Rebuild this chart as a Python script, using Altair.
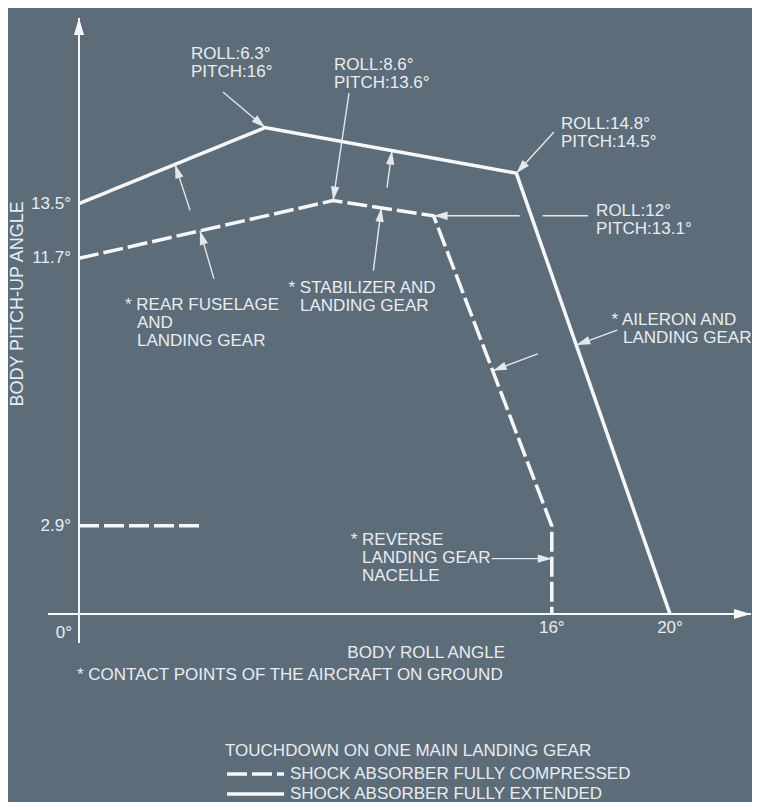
import math
import altair as alt
import pandas as pd

# ---------------- values ----------------
extended_roll = [0, 6.3, 14.8, 20]
extended_pitch = [13.5, 16, 14.5, 0]
compressed_roll = [0, 8.6, 12, 16, 16]
compressed_pitch = [11.7, 13.6, 13.1, 2.9, 0]
nacelle_roll = [0, 4.2]
nacelle_pitch = [2.9, 2.9]

x_tick_values = [16, 20]
y_tick_values = [2.9, 11.7, 13.5]
origin_label = "0°"

series_names = ["SHOCK ABSORBER FULLY COMPRESSED", "SHOCK ABSORBER FULLY EXTENDED"]
legend_title = "TOUCHDOWN ON ONE MAIN LANDING GEAR"
x_title = "BODY ROLL ANGLE"
y_title = "BODY PITCH-UP ANGLE"
footnote = "* CONTACT POINTS OF THE AIRCRAFT ON GROUND"

vertex_labels = ["ROLL:6.3°\nPITCH:16°", "ROLL:8.6°\nPITCH:13.6°",
                 "ROLL:14.8°\nPITCH:14.5°", "ROLL:12°\nPITCH:13.1°"]
vertex_roll = [6.3, 8.6, 14.8, 12]
vertex_pitch = [16, 13.6, 14.5, 13.1]

contact_heads = ["* REAR FUSELAGE", "* STABILIZER AND", "* AILERON AND", "* REVERSE"]
contact_rest = ["AND\nLANDING GEAR", "LANDING GEAR", "LANDING GEAR", "LANDING GEAR\nNACELLE"]

# ---------------- layout (plot geometry, not data) ----------------
W, H = 744, 794
X_DOM = [-2.4027, 22.775]
Y_DOM = [-6.184, 19.934]
SX = W / (X_DOM[1] - X_DOM[0])
SY = H / (Y_DOM[1] - Y_DOM[0])


def ux(p):
    return p / SX


def uy(p):
    return p / SY


FONT = "Liberation Sans"
FS = 17
BG = "#5d6c79"
LINE = "#f6f7f8"
INK = "#e9edf0"
THIN = "#e4e8ec"
ARROW = "M0,0L-2,-0.6L-2,0.6Z"

vertex_label_pos = [(3.79, 18.26), (8.63, 17.91), (16.31, 15.94), (17.50, 13.08)]
vertex_tail_pos = [(4.873, 17.171), (9.137, 17.138), (16.074, 15.855), (17.225, 13.1)]
contact_head_pos = [(1.557, 10.0), (7.09, 10.56), (18.02, 9.51), (9.195, 2.27)]
contact_rest_pos = [(1.963, 9.408), (7.48, 9.967), (18.41, 8.91), (9.577, 1.678)]
x_title_pos = (14.42, -1.447)
footnote_pos = (-0.068, -2.171)
y_title_pos = (-2.071, 10.2)

# pointer arrows to the lines: (line, segment, fraction, tail dx px, tail dy px)
pointer_specs = [
    ("E", 0, 0.516, 15, 46),
    ("E", 1, 0.505, -5, 37),
    ("C", 2, 0.50, 45, -17),
    ("C", 0, 0.476, 14, 48),
    ("C", 1, 0.48, -8, 63),
    ("E", 2, 0.39, 41, -15),
    ("C", 3, 0.372, -60, 0),
]

# ---------------- tables ----------------
rows = []
for i, (r, p) in enumerate(zip(extended_roll, extended_pitch)):
    rows.append(dict(path="extended", series=series_names[1], roll=r, pitch=p, order=i))
for i, (r, p) in enumerate(zip(compressed_roll, compressed_pitch)):
    rows.append(dict(path="compressed", series=series_names[0], roll=r, pitch=p, order=i))
for i, (r, p) in enumerate(zip(nacelle_roll, nacelle_pitch)):
    rows.append(dict(path="nacelle", series=series_names[0], roll=r, pitch=p, order=i))
lines_df = pd.DataFrame(rows)

polys = {"E": list(zip(extended_roll, extended_pitch)),
         "C": list(zip(compressed_roll, compressed_pitch))}

rules = []
heads = []


def add_arrow(sx, sy, tx, ty, kind="thin", gap=None):
    if gap is None:
        rules.append(dict(x=sx, y=sy, x2=tx, y2=ty, kind=kind))
    else:
        g0, g1 = gap
        rules.append(dict(x=tx, y=ty, x2=g0, y2=ty, kind=kind))
        rules.append(dict(x=g1, y=sy, x2=sx, y2=sy, kind=kind))
    ang = math.degrees(math.atan2(-(ty - sy) * SY, (tx - sx) * SX)) % 360
    heads.append(dict(x=tx, y=ty, ang=ang, kind=kind))


# callout arrows from the vertex labels
for k, ((sx, sy), r, p) in enumerate(zip(vertex_tail_pos, vertex_roll, vertex_pitch)):
    gap = None
    if k == 3:
        (ax, ay), (bx, by) = polys["E"][2], polys["E"][3]
        cx = ax + (p - ay) / (by - ay) * (bx - ax)
        gap = (cx - ux(11.5), cx + ux(11.5))
    add_arrow(sx, sy, r, p, gap=gap)

# pointers onto the lines
for line, seg, t, dxp, dyp in pointer_specs:
    (ax, ay), (bx, by) = polys[line][seg], polys[line][seg + 1]
    tx, ty = ax + t * (bx - ax), ay + t * (by - ay)
    add_arrow(tx + ux(dxp), ty - uy(dyp), tx, ty)

# axes
add_arrow(-1.05, 0, 22.74, 0, kind="axis")
add_arrow(0, -0.954, 0, 19.605, kind="axis")

rules_df = pd.DataFrame(rules)
heads_df = pd.DataFrame(heads)

left_text = []
for lab, (x, y) in zip(vertex_labels, vertex_label_pos):
    left_text.append(dict(x=x, y=y, label=lab))
for lab, (x, y) in zip(contact_heads, contact_head_pos):
    left_text.append(dict(x=x, y=y, label=lab))
for lab, (x, y) in zip(contact_rest, contact_rest_pos):
    left_text.append(dict(x=x, y=y, label=lab))
left_text.append(dict(x=footnote_pos[0], y=footnote_pos[1], label=footnote))
left_df = pd.DataFrame(left_text)

ytick_df = pd.DataFrame(dict(x=[0] * len(y_tick_values), y=y_tick_values,
                             label=[f"{v}°" for v in y_tick_values]))
xtick_df = pd.DataFrame(dict(x=x_tick_values, y=[0] * len(x_tick_values),
                             label=[f"{v}°" for v in x_tick_values]))
origin_df = pd.DataFrame(dict(x=[0], y=[0], label=[origin_label]))
xtitle_df = pd.DataFrame(dict(x=[x_title_pos[0]], y=[x_title_pos[1]], label=[x_title]))
ytitle_df = pd.DataFrame(dict(x=[y_title_pos[0]], y=[y_title_pos[1]], label=[y_title]))

# ---------------- chart ----------------
xs = alt.Scale(domain=X_DOM, nice=False, zero=False)
ys = alt.Scale(domain=Y_DOM, nice=False, zero=False)


def XE(f="x"):
    return alt.X(f, type="quantitative", scale=xs, axis=None)


def YE(f="y"):
    return alt.Y(f, type="quantitative", scale=ys, axis=None)


lines = alt.Chart(lines_df).mark_line(color=LINE, strokeWidth=3.5, strokeJoin="miter").encode(
    x=XE("roll"), y=YE("pitch"),
    detail="path:N",
    order=alt.Order("order:Q"),
    strokeDash=alt.StrokeDash(
        "series:N",
        scale=alt.Scale(domain=series_names, range=[[20, 5], [1, 0]]),
        legend=alt.Legend(
            orient="none", legendX=217, legendY=735, padding=0,
            title=legend_title, titleFont=FONT, titleFontSize=FS, titleFontWeight="normal",
            titleColor=INK, titleLimit=700, titlePadding=4,
            labelFont=FONT, labelFontSize=FS, labelColor=INK, labelLimit=700, labelOffset=4,
            symbolType="stroke", symbolSize=3249, symbolStrokeWidth=3.5,
            symbolStrokeColor=LINE, clipHeight=20, rowPadding=0,
        ),
    ),
)

axis_rules = alt.Chart(rules_df).transform_filter(alt.datum.kind == "axis").mark_rule(
    color=LINE, strokeWidth=2).encode(x=XE(), y=YE(), x2="x2:Q", y2="y2:Q")
thin_rules = alt.Chart(rules_df).transform_filter(alt.datum.kind == "thin").mark_rule(
    color=THIN, strokeWidth=1.4).encode(x=XE(), y=YE(), x2="x2:Q", y2="y2:Q")

axis_heads = alt.Chart(heads_df).transform_filter(alt.datum.kind == "axis").mark_point(
    shape=ARROW, filled=True, color=LINE, opacity=1, size=289).encode(
    x=XE(), y=YE(), angle=alt.Angle("ang:Q", scale=None))
thin_heads = alt.Chart(heads_df).transform_filter(alt.datum.kind == "thin").mark_point(
    shape=ARROW, filled=True, color=THIN, opacity=1, size=196).encode(
    x=XE(), y=YE(), angle=alt.Angle("ang:Q", scale=None))

txt = dict(font=FONT, fontSize=FS, color=INK)
left_texts = alt.Chart(left_df).mark_text(align="left", baseline="alphabetic",
                                          lineBreak="\n", lineHeight=18, **txt).encode(
    x=XE(), y=YE(), text="label:N")
yticks = alt.Chart(ytick_df).mark_text(align="right", baseline="middle", dx=-8, **txt).encode(
    x=XE(), y=YE(), text="label:N")
xticks = alt.Chart(xtick_df).mark_text(align="center", baseline="top", dy=6, **txt).encode(
    x=XE(), y=YE(), text="label:N")
origin = alt.Chart(origin_df).mark_text(align="right", baseline="top", dx=-7, dy=11, **txt).encode(
    x=XE(), y=YE(), text="label:N")
xtitle = alt.Chart(xtitle_df).mark_text(align="right", baseline="alphabetic", **txt).encode(
    x=XE(), y=YE(), text="label:N")
ytitle = alt.Chart(ytitle_df).mark_text(align="center", baseline="middle", angle=270,
                                        font=FONT, fontSize=18, color=INK).encode(
    x=XE(), y=YE(), text="label:N")

chart = alt.layer(
    axis_rules, thin_rules, lines, axis_heads, thin_heads,
    left_texts, yticks, xticks, origin, xtitle, ytitle,
).properties(
    width=W, height=H, background=BG, padding=0,
    autosize=alt.AutoSizeParams(type="none"),
).configure_view(stroke=None)

chart.save("out.html", embed_options={"renderer": "svg", "actions": False})
